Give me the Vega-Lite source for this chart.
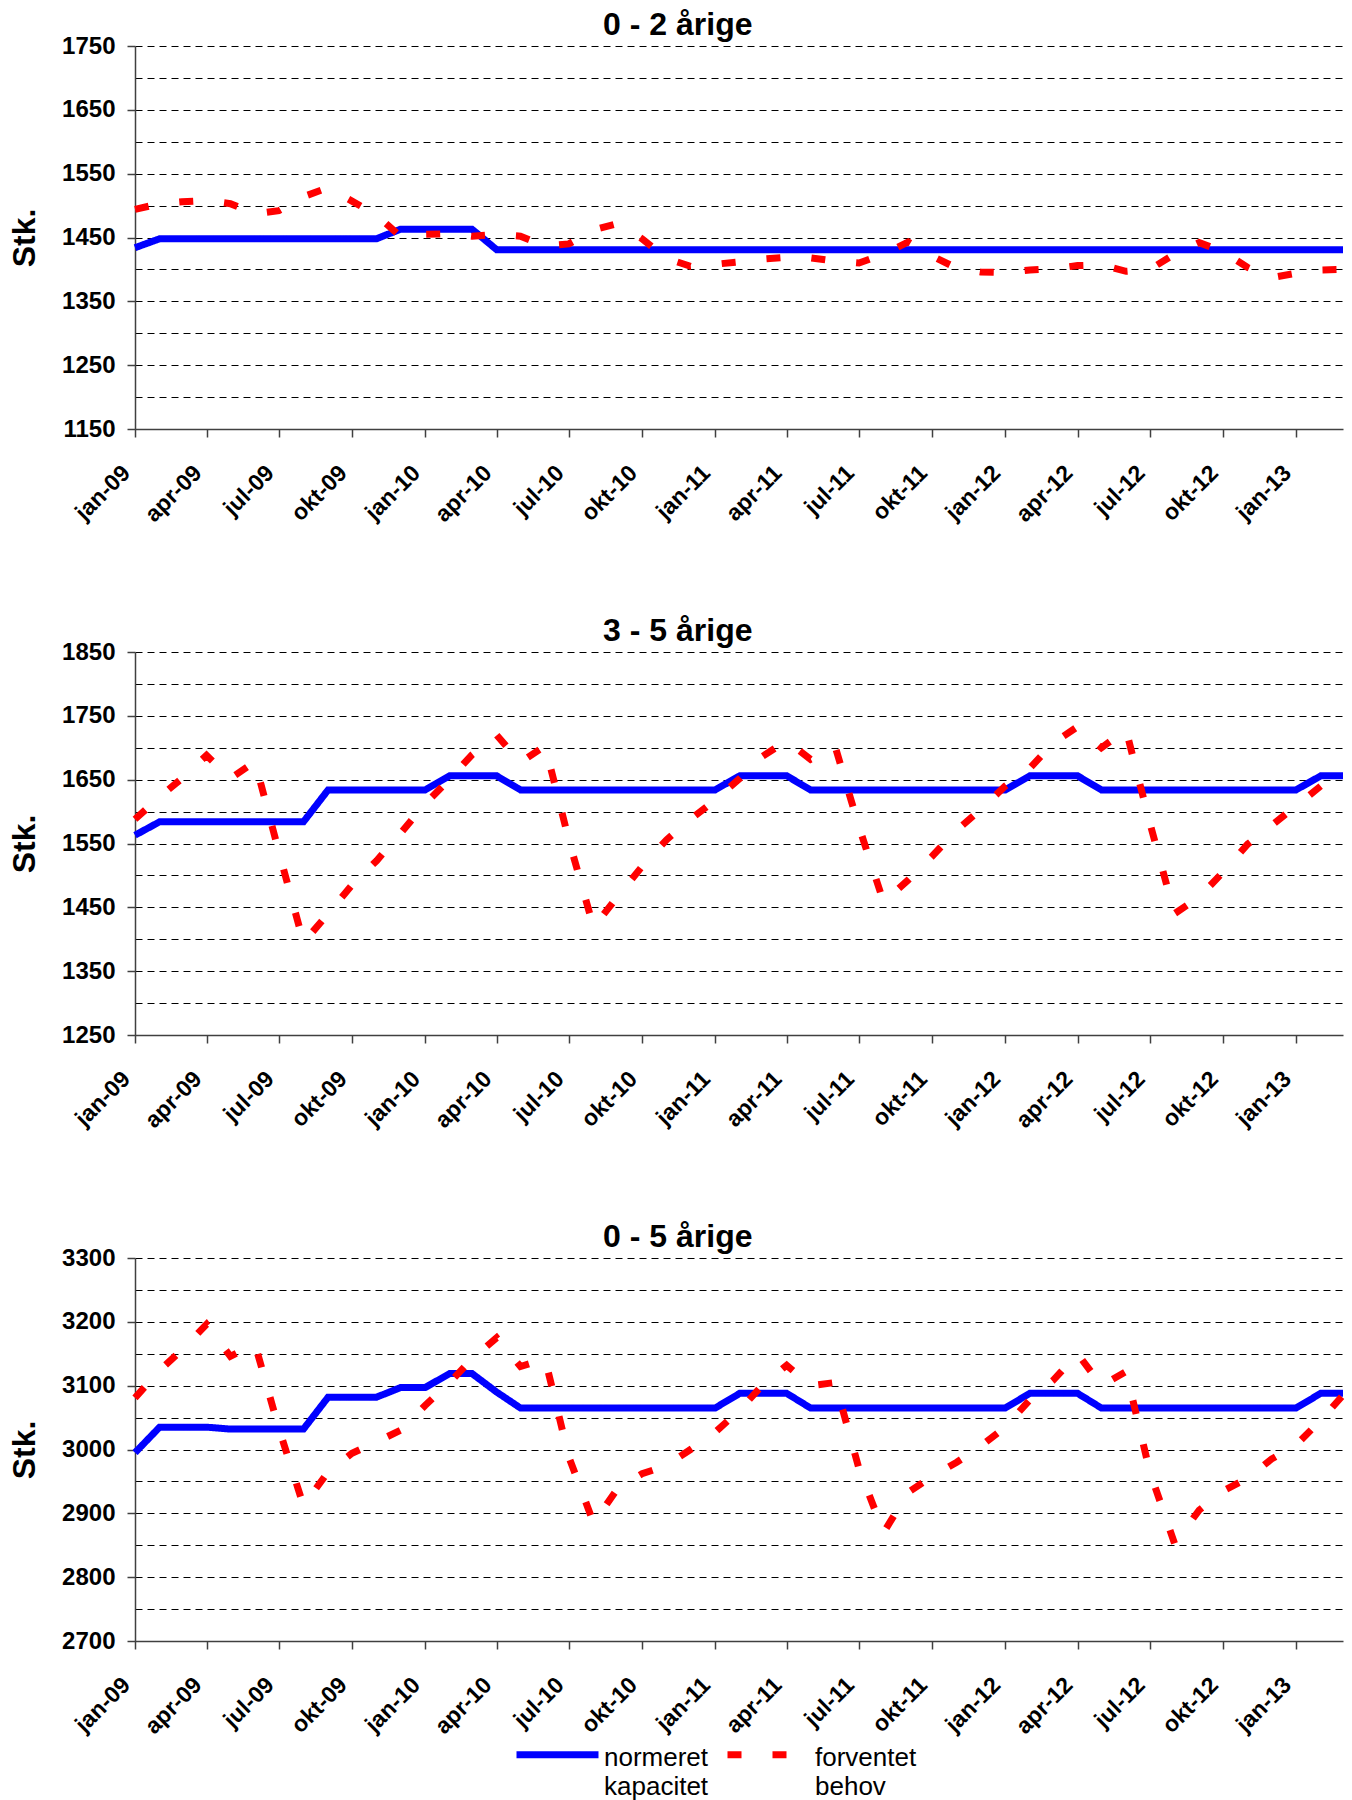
{
"$schema": "https://vega.github.io/schema/vega-lite/v6.json",
"padding": {"left": 8, "top": 8, "right": 10, "bottom": 0},
"background": "white",
"spacing": 87,
"config": {
  "font": "Liberation Sans",
  "view": {"stroke": null},
  "title": {"fontSize": 32, "fontWeight": "bold", "anchor": "middle", "frame": "bounds", "color": "black", "offset": -7.6, "dx": -5},
  "axis": {"labelFont": "Liberation Sans", "labelFontWeight": "bold", "labelColor": "black", "titleFont": "Liberation Sans", "titleFontWeight": "bold", "titleColor": "black", "domainColor": "#404040", "domainWidth": 1.5, "tickColor": "#404040", "tickWidth": 1.5, "tickSize": 8},
  "legend": {"labelFont": "Liberation Sans", "labelColor": "black", "layout": {"bottom": {"anchor": "middle"}}}
},
"data": {"values": [
{"d":"2009-01-01T00:00","p":1,"s":"normeret kapacitet","v":1434},
{"d":"2009-02-01T00:00","p":1,"s":"normeret kapacitet","v":1448},
{"d":"2009-03-01T00:00","p":1,"s":"normeret kapacitet","v":1448},
{"d":"2009-04-01T00:00","p":1,"s":"normeret kapacitet","v":1448},
{"d":"2009-05-01T00:00","p":1,"s":"normeret kapacitet","v":1448},
{"d":"2009-06-01T00:00","p":1,"s":"normeret kapacitet","v":1448},
{"d":"2009-07-01T00:00","p":1,"s":"normeret kapacitet","v":1448},
{"d":"2009-08-01T00:00","p":1,"s":"normeret kapacitet","v":1448},
{"d":"2009-09-01T00:00","p":1,"s":"normeret kapacitet","v":1448},
{"d":"2009-10-01T00:00","p":1,"s":"normeret kapacitet","v":1448},
{"d":"2009-11-01T00:00","p":1,"s":"normeret kapacitet","v":1448},
{"d":"2009-12-01T00:00","p":1,"s":"normeret kapacitet","v":1463},
{"d":"2010-01-01T00:00","p":1,"s":"normeret kapacitet","v":1463},
{"d":"2010-02-01T00:00","p":1,"s":"normeret kapacitet","v":1463},
{"d":"2010-03-01T00:00","p":1,"s":"normeret kapacitet","v":1463},
{"d":"2010-04-01T00:00","p":1,"s":"normeret kapacitet","v":1431},
{"d":"2010-05-01T00:00","p":1,"s":"normeret kapacitet","v":1431},
{"d":"2010-06-01T00:00","p":1,"s":"normeret kapacitet","v":1431},
{"d":"2010-07-01T00:00","p":1,"s":"normeret kapacitet","v":1431},
{"d":"2010-08-01T00:00","p":1,"s":"normeret kapacitet","v":1431},
{"d":"2010-09-01T00:00","p":1,"s":"normeret kapacitet","v":1431},
{"d":"2010-10-01T00:00","p":1,"s":"normeret kapacitet","v":1431},
{"d":"2010-11-01T00:00","p":1,"s":"normeret kapacitet","v":1431},
{"d":"2010-12-01T00:00","p":1,"s":"normeret kapacitet","v":1431},
{"d":"2011-01-01T00:00","p":1,"s":"normeret kapacitet","v":1431},
{"d":"2011-02-01T00:00","p":1,"s":"normeret kapacitet","v":1431},
{"d":"2011-03-01T00:00","p":1,"s":"normeret kapacitet","v":1431},
{"d":"2011-04-01T00:00","p":1,"s":"normeret kapacitet","v":1431},
{"d":"2011-05-01T00:00","p":1,"s":"normeret kapacitet","v":1431},
{"d":"2011-06-01T00:00","p":1,"s":"normeret kapacitet","v":1431},
{"d":"2011-07-01T00:00","p":1,"s":"normeret kapacitet","v":1431},
{"d":"2011-08-01T00:00","p":1,"s":"normeret kapacitet","v":1431},
{"d":"2011-09-01T00:00","p":1,"s":"normeret kapacitet","v":1431},
{"d":"2011-10-01T00:00","p":1,"s":"normeret kapacitet","v":1431},
{"d":"2011-11-01T00:00","p":1,"s":"normeret kapacitet","v":1431},
{"d":"2011-12-01T00:00","p":1,"s":"normeret kapacitet","v":1431},
{"d":"2012-01-01T00:00","p":1,"s":"normeret kapacitet","v":1431},
{"d":"2012-02-01T00:00","p":1,"s":"normeret kapacitet","v":1431},
{"d":"2012-03-01T00:00","p":1,"s":"normeret kapacitet","v":1431},
{"d":"2012-04-01T00:00","p":1,"s":"normeret kapacitet","v":1431},
{"d":"2012-05-01T00:00","p":1,"s":"normeret kapacitet","v":1431},
{"d":"2012-06-01T00:00","p":1,"s":"normeret kapacitet","v":1431},
{"d":"2012-07-01T00:00","p":1,"s":"normeret kapacitet","v":1431},
{"d":"2012-08-01T00:00","p":1,"s":"normeret kapacitet","v":1431},
{"d":"2012-09-01T00:00","p":1,"s":"normeret kapacitet","v":1431},
{"d":"2012-10-01T00:00","p":1,"s":"normeret kapacitet","v":1431},
{"d":"2012-11-01T00:00","p":1,"s":"normeret kapacitet","v":1431},
{"d":"2012-12-01T00:00","p":1,"s":"normeret kapacitet","v":1431},
{"d":"2013-01-01T00:00","p":1,"s":"normeret kapacitet","v":1431},
{"d":"2013-02-01T00:00","p":1,"s":"normeret kapacitet","v":1431},
{"d":"2013-03-01T00:00","p":1,"s":"normeret kapacitet","v":1431},
{"d":"2009-01-01T00:00","p":1,"s":"forventet behov","v":1494},
{"d":"2009-02-01T00:00","p":1,"s":"forventet behov","v":1503},
{"d":"2009-03-01T00:00","p":1,"s":"forventet behov","v":1506},
{"d":"2009-04-01T00:00","p":1,"s":"forventet behov","v":1508},
{"d":"2009-05-01T00:00","p":1,"s":"forventet behov","v":1503},
{"d":"2009-06-01T00:00","p":1,"s":"forventet behov","v":1487},
{"d":"2009-07-01T00:00","p":1,"s":"forventet behov","v":1492},
{"d":"2009-08-01T00:00","p":1,"s":"forventet behov","v":1514},
{"d":"2009-09-01T00:00","p":1,"s":"forventet behov","v":1528},
{"d":"2009-10-01T00:00","p":1,"s":"forventet behov","v":1507},
{"d":"2009-11-01T00:00","p":1,"s":"forventet behov","v":1485},
{"d":"2009-12-01T00:00","p":1,"s":"forventet behov","v":1452},
{"d":"2010-01-01T00:00","p":1,"s":"forventet behov","v":1455},
{"d":"2010-02-01T00:00","p":1,"s":"forventet behov","v":1456},
{"d":"2010-03-01T00:00","p":1,"s":"forventet behov","v":1452},
{"d":"2010-04-01T00:00","p":1,"s":"forventet behov","v":1455},
{"d":"2010-05-01T00:00","p":1,"s":"forventet behov","v":1452},
{"d":"2010-06-01T00:00","p":1,"s":"forventet behov","v":1437},
{"d":"2010-07-01T00:00","p":1,"s":"forventet behov","v":1440},
{"d":"2010-08-01T00:00","p":1,"s":"forventet behov","v":1462},
{"d":"2010-09-01T00:00","p":1,"s":"forventet behov","v":1472},
{"d":"2010-10-01T00:00","p":1,"s":"forventet behov","v":1448},
{"d":"2010-11-01T00:00","p":1,"s":"forventet behov","v":1417},
{"d":"2010-12-01T00:00","p":1,"s":"forventet behov","v":1405},
{"d":"2011-01-01T00:00","p":1,"s":"forventet behov","v":1408},
{"d":"2011-02-01T00:00","p":1,"s":"forventet behov","v":1412},
{"d":"2011-03-01T00:00","p":1,"s":"forventet behov","v":1416},
{"d":"2011-04-01T00:00","p":1,"s":"forventet behov","v":1419},
{"d":"2011-05-01T00:00","p":1,"s":"forventet behov","v":1418},
{"d":"2011-06-01T00:00","p":1,"s":"forventet behov","v":1413},
{"d":"2011-07-01T00:00","p":1,"s":"forventet behov","v":1410},
{"d":"2011-08-01T00:00","p":1,"s":"forventet behov","v":1424},
{"d":"2011-09-01T00:00","p":1,"s":"forventet behov","v":1443},
{"d":"2011-10-01T00:00","p":1,"s":"forventet behov","v":1421},
{"d":"2011-11-01T00:00","p":1,"s":"forventet behov","v":1402},
{"d":"2011-12-01T00:00","p":1,"s":"forventet behov","v":1396},
{"d":"2012-01-01T00:00","p":1,"s":"forventet behov","v":1395},
{"d":"2012-02-01T00:00","p":1,"s":"forventet behov","v":1399},
{"d":"2012-03-01T00:00","p":1,"s":"forventet behov","v":1401},
{"d":"2012-04-01T00:00","p":1,"s":"forventet behov","v":1406},
{"d":"2012-05-01T00:00","p":1,"s":"forventet behov","v":1407},
{"d":"2012-06-01T00:00","p":1,"s":"forventet behov","v":1397},
{"d":"2012-07-01T00:00","p":1,"s":"forventet behov","v":1400},
{"d":"2012-08-01T00:00","p":1,"s":"forventet behov","v":1424},
{"d":"2012-09-01T00:00","p":1,"s":"forventet behov","v":1442},
{"d":"2012-10-01T00:00","p":1,"s":"forventet behov","v":1428},
{"d":"2012-11-01T00:00","p":1,"s":"forventet behov","v":1403},
{"d":"2012-12-01T00:00","p":1,"s":"forventet behov","v":1387},
{"d":"2013-01-01T00:00","p":1,"s":"forventet behov","v":1394},
{"d":"2013-02-01T00:00","p":1,"s":"forventet behov","v":1399},
{"d":"2013-03-01T00:00","p":1,"s":"forventet behov","v":1400},
{"d":"2009-01-01T00:00","p":2,"s":"normeret kapacitet","v":1563},
{"d":"2009-02-01T00:00","p":2,"s":"normeret kapacitet","v":1584},
{"d":"2009-03-01T00:00","p":2,"s":"normeret kapacitet","v":1584},
{"d":"2009-04-01T00:00","p":2,"s":"normeret kapacitet","v":1584},
{"d":"2009-05-01T00:00","p":2,"s":"normeret kapacitet","v":1584},
{"d":"2009-06-01T00:00","p":2,"s":"normeret kapacitet","v":1584},
{"d":"2009-07-01T00:00","p":2,"s":"normeret kapacitet","v":1584},
{"d":"2009-08-01T00:00","p":2,"s":"normeret kapacitet","v":1584},
{"d":"2009-09-01T00:00","p":2,"s":"normeret kapacitet","v":1634},
{"d":"2009-10-01T00:00","p":2,"s":"normeret kapacitet","v":1634},
{"d":"2009-11-01T00:00","p":2,"s":"normeret kapacitet","v":1634},
{"d":"2009-12-01T00:00","p":2,"s":"normeret kapacitet","v":1634},
{"d":"2010-01-01T00:00","p":2,"s":"normeret kapacitet","v":1634},
{"d":"2010-02-01T00:00","p":2,"s":"normeret kapacitet","v":1656},
{"d":"2010-03-01T00:00","p":2,"s":"normeret kapacitet","v":1656},
{"d":"2010-04-01T00:00","p":2,"s":"normeret kapacitet","v":1656},
{"d":"2010-05-01T00:00","p":2,"s":"normeret kapacitet","v":1634},
{"d":"2010-06-01T00:00","p":2,"s":"normeret kapacitet","v":1634},
{"d":"2010-07-01T00:00","p":2,"s":"normeret kapacitet","v":1634},
{"d":"2010-08-01T00:00","p":2,"s":"normeret kapacitet","v":1634},
{"d":"2010-09-01T00:00","p":2,"s":"normeret kapacitet","v":1634},
{"d":"2010-10-01T00:00","p":2,"s":"normeret kapacitet","v":1634},
{"d":"2010-11-01T00:00","p":2,"s":"normeret kapacitet","v":1634},
{"d":"2010-12-01T00:00","p":2,"s":"normeret kapacitet","v":1634},
{"d":"2011-01-01T00:00","p":2,"s":"normeret kapacitet","v":1634},
{"d":"2011-02-01T00:00","p":2,"s":"normeret kapacitet","v":1656},
{"d":"2011-03-01T00:00","p":2,"s":"normeret kapacitet","v":1656},
{"d":"2011-04-01T00:00","p":2,"s":"normeret kapacitet","v":1656},
{"d":"2011-05-01T00:00","p":2,"s":"normeret kapacitet","v":1634},
{"d":"2011-06-01T00:00","p":2,"s":"normeret kapacitet","v":1634},
{"d":"2011-07-01T00:00","p":2,"s":"normeret kapacitet","v":1634},
{"d":"2011-08-01T00:00","p":2,"s":"normeret kapacitet","v":1634},
{"d":"2011-09-01T00:00","p":2,"s":"normeret kapacitet","v":1634},
{"d":"2011-10-01T00:00","p":2,"s":"normeret kapacitet","v":1634},
{"d":"2011-11-01T00:00","p":2,"s":"normeret kapacitet","v":1634},
{"d":"2011-12-01T00:00","p":2,"s":"normeret kapacitet","v":1634},
{"d":"2012-01-01T00:00","p":2,"s":"normeret kapacitet","v":1634},
{"d":"2012-02-01T00:00","p":2,"s":"normeret kapacitet","v":1656},
{"d":"2012-03-01T00:00","p":2,"s":"normeret kapacitet","v":1656},
{"d":"2012-04-01T00:00","p":2,"s":"normeret kapacitet","v":1656},
{"d":"2012-05-01T00:00","p":2,"s":"normeret kapacitet","v":1634},
{"d":"2012-06-01T00:00","p":2,"s":"normeret kapacitet","v":1634},
{"d":"2012-07-01T00:00","p":2,"s":"normeret kapacitet","v":1634},
{"d":"2012-08-01T00:00","p":2,"s":"normeret kapacitet","v":1634},
{"d":"2012-09-01T00:00","p":2,"s":"normeret kapacitet","v":1634},
{"d":"2012-10-01T00:00","p":2,"s":"normeret kapacitet","v":1634},
{"d":"2012-11-01T00:00","p":2,"s":"normeret kapacitet","v":1634},
{"d":"2012-12-01T00:00","p":2,"s":"normeret kapacitet","v":1634},
{"d":"2013-01-01T00:00","p":2,"s":"normeret kapacitet","v":1634},
{"d":"2013-02-01T00:00","p":2,"s":"normeret kapacitet","v":1656},
{"d":"2013-03-01T00:00","p":2,"s":"normeret kapacitet","v":1656},
{"d":"2009-01-01T00:00","p":2,"s":"forventet behov","v":1588},
{"d":"2009-02-01T00:00","p":2,"s":"forventet behov","v":1623},
{"d":"2009-03-01T00:00","p":2,"s":"forventet behov","v":1652},
{"d":"2009-04-01T00:00","p":2,"s":"forventet behov","v":1688},
{"d":"2009-05-01T00:00","p":2,"s":"forventet behov","v":1652},
{"d":"2009-06-01T00:00","p":2,"s":"forventet behov","v":1678},
{"d":"2009-07-01T00:00","p":2,"s":"forventet behov","v":1537},
{"d":"2009-08-01T00:00","p":2,"s":"forventet behov","v":1395},
{"d":"2009-09-01T00:00","p":2,"s":"forventet behov","v":1440},
{"d":"2009-10-01T00:00","p":2,"s":"forventet behov","v":1485},
{"d":"2009-11-01T00:00","p":2,"s":"forventet behov","v":1523},
{"d":"2009-12-01T00:00","p":2,"s":"forventet behov","v":1566},
{"d":"2010-01-01T00:00","p":2,"s":"forventet behov","v":1612},
{"d":"2010-02-01T00:00","p":2,"s":"forventet behov","v":1651},
{"d":"2010-03-01T00:00","p":2,"s":"forventet behov","v":1689},
{"d":"2010-04-01T00:00","p":2,"s":"forventet behov","v":1720},
{"d":"2010-05-01T00:00","p":2,"s":"forventet behov","v":1677},
{"d":"2010-06-01T00:00","p":2,"s":"forventet behov","v":1703},
{"d":"2010-07-01T00:00","p":2,"s":"forventet behov","v":1555},
{"d":"2010-08-01T00:00","p":2,"s":"forventet behov","v":1419},
{"d":"2010-09-01T00:00","p":2,"s":"forventet behov","v":1468},
{"d":"2010-10-01T00:00","p":2,"s":"forventet behov","v":1514},
{"d":"2010-11-01T00:00","p":2,"s":"forventet behov","v":1556},
{"d":"2010-12-01T00:00","p":2,"s":"forventet behov","v":1588},
{"d":"2011-01-01T00:00","p":2,"s":"forventet behov","v":1618},
{"d":"2011-02-01T00:00","p":2,"s":"forventet behov","v":1652},
{"d":"2011-03-01T00:00","p":2,"s":"forventet behov","v":1686},
{"d":"2011-04-01T00:00","p":2,"s":"forventet behov","v":1711},
{"d":"2011-05-01T00:00","p":2,"s":"forventet behov","v":1682},
{"d":"2011-06-01T00:00","p":2,"s":"forventet behov","v":1702},
{"d":"2011-07-01T00:00","p":2,"s":"forventet behov","v":1576},
{"d":"2011-08-01T00:00","p":2,"s":"forventet behov","v":1458},
{"d":"2011-09-01T00:00","p":2,"s":"forventet behov","v":1493},
{"d":"2011-10-01T00:00","p":2,"s":"forventet behov","v":1530},
{"d":"2011-11-01T00:00","p":2,"s":"forventet behov","v":1571},
{"d":"2011-12-01T00:00","p":2,"s":"forventet behov","v":1603},
{"d":"2012-01-01T00:00","p":2,"s":"forventet behov","v":1640},
{"d":"2012-02-01T00:00","p":2,"s":"forventet behov","v":1668},
{"d":"2012-03-01T00:00","p":2,"s":"forventet behov","v":1707},
{"d":"2012-04-01T00:00","p":2,"s":"forventet behov","v":1733},
{"d":"2012-05-01T00:00","p":2,"s":"forventet behov","v":1700},
{"d":"2012-06-01T00:00","p":2,"s":"forventet behov","v":1728},
{"d":"2012-07-01T00:00","p":2,"s":"forventet behov","v":1582},
{"d":"2012-08-01T00:00","p":2,"s":"forventet behov","v":1440},
{"d":"2012-09-01T00:00","p":2,"s":"forventet behov","v":1466},
{"d":"2012-10-01T00:00","p":2,"s":"forventet behov","v":1505},
{"d":"2012-11-01T00:00","p":2,"s":"forventet behov","v":1549},
{"d":"2012-12-01T00:00","p":2,"s":"forventet behov","v":1578},
{"d":"2013-01-01T00:00","p":2,"s":"forventet behov","v":1609},
{"d":"2013-02-01T00:00","p":2,"s":"forventet behov","v":1640},
{"d":"2013-03-01T00:00","p":2,"s":"forventet behov","v":1672},
{"d":"2009-01-01T00:00","p":3,"s":"normeret kapacitet","v":2995},
{"d":"2009-02-01T00:00","p":3,"s":"normeret kapacitet","v":3035},
{"d":"2009-03-01T00:00","p":3,"s":"normeret kapacitet","v":3035},
{"d":"2009-04-01T00:00","p":3,"s":"normeret kapacitet","v":3035},
{"d":"2009-05-01T00:00","p":3,"s":"normeret kapacitet","v":3032},
{"d":"2009-06-01T00:00","p":3,"s":"normeret kapacitet","v":3032},
{"d":"2009-07-01T00:00","p":3,"s":"normeret kapacitet","v":3032},
{"d":"2009-08-01T00:00","p":3,"s":"normeret kapacitet","v":3032},
{"d":"2009-09-01T00:00","p":3,"s":"normeret kapacitet","v":3082},
{"d":"2009-10-01T00:00","p":3,"s":"normeret kapacitet","v":3082},
{"d":"2009-11-01T00:00","p":3,"s":"normeret kapacitet","v":3082},
{"d":"2009-12-01T00:00","p":3,"s":"normeret kapacitet","v":3097},
{"d":"2010-01-01T00:00","p":3,"s":"normeret kapacitet","v":3097},
{"d":"2010-02-01T00:00","p":3,"s":"normeret kapacitet","v":3119},
{"d":"2010-03-01T00:00","p":3,"s":"normeret kapacitet","v":3119},
{"d":"2010-04-01T00:00","p":3,"s":"normeret kapacitet","v":3090},
{"d":"2010-05-01T00:00","p":3,"s":"normeret kapacitet","v":3065},
{"d":"2010-06-01T00:00","p":3,"s":"normeret kapacitet","v":3065},
{"d":"2010-07-01T00:00","p":3,"s":"normeret kapacitet","v":3065},
{"d":"2010-08-01T00:00","p":3,"s":"normeret kapacitet","v":3065},
{"d":"2010-09-01T00:00","p":3,"s":"normeret kapacitet","v":3065},
{"d":"2010-10-01T00:00","p":3,"s":"normeret kapacitet","v":3065},
{"d":"2010-11-01T00:00","p":3,"s":"normeret kapacitet","v":3065},
{"d":"2010-12-01T00:00","p":3,"s":"normeret kapacitet","v":3065},
{"d":"2011-01-01T00:00","p":3,"s":"normeret kapacitet","v":3065},
{"d":"2011-02-01T00:00","p":3,"s":"normeret kapacitet","v":3088},
{"d":"2011-03-01T00:00","p":3,"s":"normeret kapacitet","v":3088},
{"d":"2011-04-01T00:00","p":3,"s":"normeret kapacitet","v":3088},
{"d":"2011-05-01T00:00","p":3,"s":"normeret kapacitet","v":3065},
{"d":"2011-06-01T00:00","p":3,"s":"normeret kapacitet","v":3065},
{"d":"2011-07-01T00:00","p":3,"s":"normeret kapacitet","v":3065},
{"d":"2011-08-01T00:00","p":3,"s":"normeret kapacitet","v":3065},
{"d":"2011-09-01T00:00","p":3,"s":"normeret kapacitet","v":3065},
{"d":"2011-10-01T00:00","p":3,"s":"normeret kapacitet","v":3065},
{"d":"2011-11-01T00:00","p":3,"s":"normeret kapacitet","v":3065},
{"d":"2011-12-01T00:00","p":3,"s":"normeret kapacitet","v":3065},
{"d":"2012-01-01T00:00","p":3,"s":"normeret kapacitet","v":3065},
{"d":"2012-02-01T00:00","p":3,"s":"normeret kapacitet","v":3088},
{"d":"2012-03-01T00:00","p":3,"s":"normeret kapacitet","v":3088},
{"d":"2012-04-01T00:00","p":3,"s":"normeret kapacitet","v":3088},
{"d":"2012-05-01T00:00","p":3,"s":"normeret kapacitet","v":3065},
{"d":"2012-06-01T00:00","p":3,"s":"normeret kapacitet","v":3065},
{"d":"2012-07-01T00:00","p":3,"s":"normeret kapacitet","v":3065},
{"d":"2012-08-01T00:00","p":3,"s":"normeret kapacitet","v":3065},
{"d":"2012-09-01T00:00","p":3,"s":"normeret kapacitet","v":3065},
{"d":"2012-10-01T00:00","p":3,"s":"normeret kapacitet","v":3065},
{"d":"2012-11-01T00:00","p":3,"s":"normeret kapacitet","v":3065},
{"d":"2012-12-01T00:00","p":3,"s":"normeret kapacitet","v":3065},
{"d":"2013-01-01T00:00","p":3,"s":"normeret kapacitet","v":3065},
{"d":"2013-02-01T00:00","p":3,"s":"normeret kapacitet","v":3088},
{"d":"2013-03-01T00:00","p":3,"s":"normeret kapacitet","v":3088},
{"d":"2009-01-01T00:00","p":3,"s":"forventet behov","v":3081},
{"d":"2009-02-01T00:00","p":3,"s":"forventet behov","v":3124},
{"d":"2009-03-01T00:00","p":3,"s":"forventet behov","v":3156},
{"d":"2009-04-01T00:00","p":3,"s":"forventet behov","v":3196},
{"d":"2009-05-01T00:00","p":3,"s":"forventet behov","v":3146},
{"d":"2009-06-01T00:00","p":3,"s":"forventet behov","v":3165},
{"d":"2009-07-01T00:00","p":3,"s":"forventet behov","v":3033},
{"d":"2009-08-01T00:00","p":3,"s":"forventet behov","v":2912},
{"d":"2009-09-01T00:00","p":3,"s":"forventet behov","v":2965},
{"d":"2009-10-01T00:00","p":3,"s":"forventet behov","v":2994},
{"d":"2009-11-01T00:00","p":3,"s":"forventet behov","v":3012},
{"d":"2009-12-01T00:00","p":3,"s":"forventet behov","v":3030},
{"d":"2010-01-01T00:00","p":3,"s":"forventet behov","v":3069},
{"d":"2010-02-01T00:00","p":3,"s":"forventet behov","v":3105},
{"d":"2010-03-01T00:00","p":3,"s":"forventet behov","v":3142},
{"d":"2010-04-01T00:00","p":3,"s":"forventet behov","v":3175},
{"d":"2010-05-01T00:00","p":3,"s":"forventet behov","v":3130},
{"d":"2010-06-01T00:00","p":3,"s":"forventet behov","v":3142},
{"d":"2010-07-01T00:00","p":3,"s":"forventet behov","v":2988},
{"d":"2010-08-01T00:00","p":3,"s":"forventet behov","v":2885},
{"d":"2010-09-01T00:00","p":3,"s":"forventet behov","v":2940},
{"d":"2010-10-01T00:00","p":3,"s":"forventet behov","v":2962},
{"d":"2010-11-01T00:00","p":3,"s":"forventet behov","v":2975},
{"d":"2010-12-01T00:00","p":3,"s":"forventet behov","v":3000},
{"d":"2011-01-01T00:00","p":3,"s":"forventet behov","v":3027},
{"d":"2011-02-01T00:00","p":3,"s":"forventet behov","v":3062},
{"d":"2011-03-01T00:00","p":3,"s":"forventet behov","v":3100},
{"d":"2011-04-01T00:00","p":3,"s":"forventet behov","v":3132},
{"d":"2011-05-01T00:00","p":3,"s":"forventet behov","v":3100},
{"d":"2011-06-01T00:00","p":3,"s":"forventet behov","v":3105},
{"d":"2011-07-01T00:00","p":3,"s":"forventet behov","v":2970},
{"d":"2011-08-01T00:00","p":3,"s":"forventet behov","v":2870},
{"d":"2011-09-01T00:00","p":3,"s":"forventet behov","v":2933},
{"d":"2011-10-01T00:00","p":3,"s":"forventet behov","v":2958},
{"d":"2011-11-01T00:00","p":3,"s":"forventet behov","v":2980},
{"d":"2011-12-01T00:00","p":3,"s":"forventet behov","v":3005},
{"d":"2012-01-01T00:00","p":3,"s":"forventet behov","v":3035},
{"d":"2012-02-01T00:00","p":3,"s":"forventet behov","v":3078},
{"d":"2012-03-01T00:00","p":3,"s":"forventet behov","v":3108},
{"d":"2012-04-01T00:00","p":3,"s":"forventet behov","v":3150},
{"d":"2012-05-01T00:00","p":3,"s":"forventet behov","v":3100},
{"d":"2012-06-01T00:00","p":3,"s":"forventet behov","v":3122},
{"d":"2012-07-01T00:00","p":3,"s":"forventet behov","v":2965},
{"d":"2012-08-01T00:00","p":3,"s":"forventet behov","v":2853},
{"d":"2012-09-01T00:00","p":3,"s":"forventet behov","v":2905},
{"d":"2012-10-01T00:00","p":3,"s":"forventet behov","v":2935},
{"d":"2012-11-01T00:00","p":3,"s":"forventet behov","v":2955},
{"d":"2012-12-01T00:00","p":3,"s":"forventet behov","v":2985},
{"d":"2013-01-01T00:00","p":3,"s":"forventet behov","v":3007},
{"d":"2013-02-01T00:00","p":3,"s":"forventet behov","v":3046},
{"d":"2013-03-01T00:00","p":3,"s":"forventet behov","v":3085}
]},
"vconcat": [
{
  "width": 1208, "height": 383,
  "title": "0 - 2 årige",
  "transform": [{"filter": "datum.p == 1"}],
  "encoding": {
    "x": {"field": "d", "type": "temporal", "scale": {"domain": [{"year": 2009, "month": 1, "date": 1}, {"year": 2013, "month": 3, "date": 1}], "nice": false},
      "axis": {"title": null, "grid": false, "tickCount": {"interval": "month", "step": 3}, "labelExpr": "['jan','feb','mar','apr','maj','jun','jul','aug','sep','okt','nov','dec'][month(datum.value)] + '-' + timeFormat(datum.value, '%y')", "labelAngle": -45, "labelAlign": "right", "labelBaseline": "middle", "labelFontSize": 23, "labelPadding": 32, "labelOffset": -9, "labelFlush": false, "labelOverlap": false}},
    "y": {"field": "v", "type": "quantitative", "scale": {"domain": [1150, 1750], "nice": false, "zero": false},
      "axis": {"title": "Stk.", "titleFontSize": 32, "titlePadding": 20, "values": [1150,1200,1250,1300,1350,1400,1450,1500,1550,1600,1650,1700,1750], "format": "d", "labelExpr": "(datum.value - 1150) % 100 == 0 ? datum.label : ''", "labelFontSize": 24, "labelPadding": 12, "grid": true, "gridDash": [7, 5], "gridColor": "black", "gridWidth": 1, "tickOpacity": {"condition": {"test": "(datum.value - 1150) % 100 == 0", "value": 1}, "value": 0}}},
    "color": {"field": "s", "type": "nominal", "scale": {"domain": ["normeret kapacitet", "forventet behov"], "range": ["#0000ff", "#ff0000"]},
      "legend": {"title": null, "orient": "bottom", "direction": "horizontal", "labelExpr": "split(datum.label, ' ')", "symbolType": "stroke", "symbolSize": 6724, "symbolStrokeWidth": 7, "symbolOffset": -48, "labelFontSize": 26, "labelBaseline": "top", "labelOffset": 2, "columnPadding": 4, "labelLimit": 400, "offset": -29, "encode": {"labels": {"update": {"dy": {"value": -10}, "lineHeight": {"value": 29}}}}}},
    "strokeDash": {"field": "s", "type": "nominal", "scale": {"domain": ["normeret kapacitet", "forventet behov"], "range": [[1, 0], [14, 31]]},
      "legend": {"title": null, "orient": "bottom", "direction": "horizontal", "labelExpr": "split(datum.label, ' ')", "symbolType": "stroke", "symbolSize": 6724, "symbolStrokeWidth": 7, "symbolOffset": -48, "labelFontSize": 26, "labelBaseline": "top", "labelOffset": 2, "columnPadding": 4, "labelLimit": 400, "offset": -29, "encode": {"labels": {"update": {"dy": {"value": -10}, "lineHeight": {"value": 29}}}}}}
  },
  "layer": [
    {"transform": [{"filter": "datum.s == 'normeret kapacitet'"}], "mark": {"type": "line", "strokeWidth": 7}},
    {"transform": [{"filter": "datum.s == 'forventet behov'"}], "mark": {"type": "line", "strokeWidth": 7}}
  ]
},
{
  "width": 1208, "height": 383,
  "title": "3 - 5 årige",
  "transform": [{"filter": "datum.p == 2"}],
  "encoding": {
    "x": {"field": "d", "type": "temporal", "scale": {"domain": [{"year": 2009, "month": 1, "date": 1}, {"year": 2013, "month": 3, "date": 1}], "nice": false},
      "axis": {"title": null, "grid": false, "tickCount": {"interval": "month", "step": 3}, "labelExpr": "['jan','feb','mar','apr','maj','jun','jul','aug','sep','okt','nov','dec'][month(datum.value)] + '-' + timeFormat(datum.value, '%y')", "labelAngle": -45, "labelAlign": "right", "labelBaseline": "middle", "labelFontSize": 23, "labelPadding": 32, "labelOffset": -9, "labelFlush": false, "labelOverlap": false}},
    "y": {"field": "v", "type": "quantitative", "scale": {"domain": [1250, 1850], "nice": false, "zero": false},
      "axis": {"title": "Stk.", "titleFontSize": 32, "titlePadding": 20, "values": [1250,1300,1350,1400,1450,1500,1550,1600,1650,1700,1750,1800,1850], "format": "d", "labelExpr": "(datum.value - 1250) % 100 == 0 ? datum.label : ''", "labelFontSize": 24, "labelPadding": 12, "grid": true, "gridDash": [7, 5], "gridColor": "black", "gridWidth": 1, "tickOpacity": {"condition": {"test": "(datum.value - 1250) % 100 == 0", "value": 1}, "value": 0}}},
    "color": {"field": "s", "type": "nominal", "scale": {"domain": ["normeret kapacitet", "forventet behov"], "range": ["#0000ff", "#ff0000"]},
      "legend": {"title": null, "orient": "bottom", "direction": "horizontal", "labelExpr": "split(datum.label, ' ')", "symbolType": "stroke", "symbolSize": 6724, "symbolStrokeWidth": 7, "symbolOffset": -48, "labelFontSize": 26, "labelBaseline": "top", "labelOffset": 2, "columnPadding": 4, "labelLimit": 400, "offset": -29, "encode": {"labels": {"update": {"dy": {"value": -10}, "lineHeight": {"value": 29}}}}}},
    "strokeDash": {"field": "s", "type": "nominal", "scale": {"domain": ["normeret kapacitet", "forventet behov"], "range": [[1, 0], [14, 31]]},
      "legend": {"title": null, "orient": "bottom", "direction": "horizontal", "labelExpr": "split(datum.label, ' ')", "symbolType": "stroke", "symbolSize": 6724, "symbolStrokeWidth": 7, "symbolOffset": -48, "labelFontSize": 26, "labelBaseline": "top", "labelOffset": 2, "columnPadding": 4, "labelLimit": 400, "offset": -29, "encode": {"labels": {"update": {"dy": {"value": -10}, "lineHeight": {"value": 29}}}}}}
  },
  "layer": [
    {"transform": [{"filter": "datum.s == 'normeret kapacitet'"}], "mark": {"type": "line", "strokeWidth": 7}},
    {"transform": [{"filter": "datum.s == 'forventet behov'"}], "mark": {"type": "line", "strokeWidth": 7}}
  ]
},
{
  "width": 1208, "height": 383,
  "title": "0 - 5 årige",
  "transform": [{"filter": "datum.p == 3"}],
  "encoding": {
    "x": {"field": "d", "type": "temporal", "scale": {"domain": [{"year": 2009, "month": 1, "date": 1}, {"year": 2013, "month": 3, "date": 1}], "nice": false},
      "axis": {"title": null, "grid": false, "tickCount": {"interval": "month", "step": 3}, "labelExpr": "['jan','feb','mar','apr','maj','jun','jul','aug','sep','okt','nov','dec'][month(datum.value)] + '-' + timeFormat(datum.value, '%y')", "labelAngle": -45, "labelAlign": "right", "labelBaseline": "middle", "labelFontSize": 23, "labelPadding": 32, "labelOffset": -9, "labelFlush": false, "labelOverlap": false}},
    "y": {"field": "v", "type": "quantitative", "scale": {"domain": [2700, 3300], "nice": false, "zero": false},
      "axis": {"title": "Stk.", "titleFontSize": 32, "titlePadding": 20, "values": [2700,2750,2800,2850,2900,2950,3000,3050,3100,3150,3200,3250,3300], "format": "d", "labelExpr": "(datum.value - 2700) % 100 == 0 ? datum.label : ''", "labelFontSize": 24, "labelPadding": 12, "grid": true, "gridDash": [7, 5], "gridColor": "black", "gridWidth": 1, "tickOpacity": {"condition": {"test": "(datum.value - 2700) % 100 == 0", "value": 1}, "value": 0}}},
    "color": {"field": "s", "type": "nominal", "scale": {"domain": ["normeret kapacitet", "forventet behov"], "range": ["#0000ff", "#ff0000"]},
      "legend": {"title": null, "orient": "bottom", "direction": "horizontal", "labelExpr": "split(datum.label, ' ')", "symbolType": "stroke", "symbolSize": 6724, "symbolStrokeWidth": 7, "symbolOffset": -48, "labelFontSize": 26, "labelBaseline": "top", "labelOffset": 2, "columnPadding": 4, "labelLimit": 400, "offset": -29, "encode": {"labels": {"update": {"dy": {"value": -10}, "lineHeight": {"value": 29}}}}}},
    "strokeDash": {"field": "s", "type": "nominal", "scale": {"domain": ["normeret kapacitet", "forventet behov"], "range": [[1, 0], [14, 31]]},
      "legend": {"title": null, "orient": "bottom", "direction": "horizontal", "labelExpr": "split(datum.label, ' ')", "symbolType": "stroke", "symbolSize": 6724, "symbolStrokeWidth": 7, "symbolOffset": -48, "labelFontSize": 26, "labelBaseline": "top", "labelOffset": 2, "columnPadding": 4, "labelLimit": 400, "offset": -29, "encode": {"labels": {"update": {"dy": {"value": -10}, "lineHeight": {"value": 29}}}}}}
  },
  "layer": [
    {"transform": [{"filter": "datum.s == 'normeret kapacitet'"}], "mark": {"type": "line", "strokeWidth": 7}},
    {"transform": [{"filter": "datum.s == 'forventet behov'"}], "mark": {"type": "line", "strokeWidth": 7}}
  ]
}
],
"resolve": {"scale": {"y": "independent"}}
}
